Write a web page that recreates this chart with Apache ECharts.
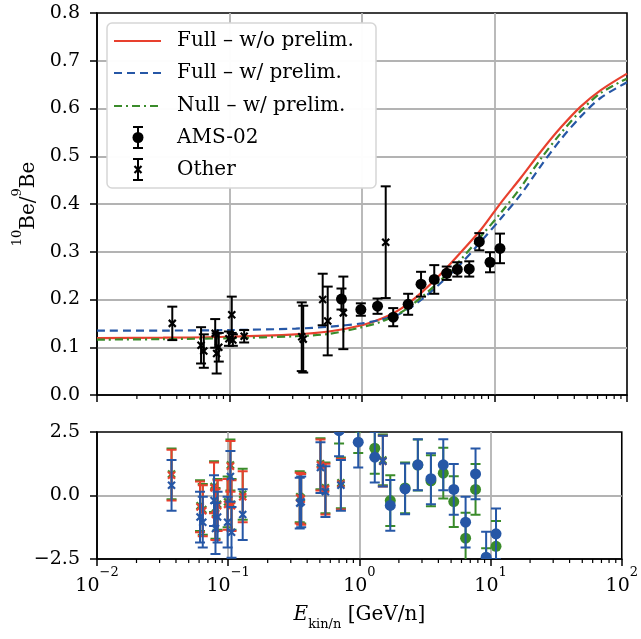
<!DOCTYPE html>
<html><head><meta charset="utf-8">
<script src="https://cdn.jsdelivr.net/npm/echarts@6/dist/echarts.min.js"></script>
<style>html,body{margin:0;padding:0;background:#fff}#c{width:641px;height:639px}</style>
</head><body><div id="c"></div>
<script>
// ---------- data ----------
const CURVE_E        = [0.01, 0.0316, 0.1, 0.316, 0.562, 1.0, 1.41, 2.0, 2.82, 3.98, 5.62, 7.94, 11.2, 15.8, 22.4, 31.6, 44.7, 63.1, 100];
const FULL_NOPRELIM  = [0.119, 0.120, 0.122, 0.127, 0.133, 0.146, 0.160, 0.182, 0.215, 0.255, 0.300, 0.347, 0.403, 0.455, 0.510, 0.560, 0.604, 0.638, 0.673];
const FULL_PRELIM    = [0.135, 0.135, 0.136, 0.139, 0.143, 0.150, 0.158, 0.172, 0.200, 0.236, 0.276, 0.322, 0.370, 0.420, 0.480, 0.535, 0.583, 0.622, 0.655];
const NULL_PRELIM    = [0.116, 0.117, 0.119, 0.123, 0.128, 0.142, 0.154, 0.174, 0.205, 0.242, 0.285, 0.333, 0.382, 0.435, 0.495, 0.548, 0.595, 0.632, 0.663];

const AMS_E     = [0.70, 0.98, 1.31, 1.72, 2.23, 2.79, 3.51, 4.36, 5.24, 6.45, 7.68, 9.25, 11.0];
const AMS_VAL   = [0.201, 0.179, 0.186, 0.163, 0.190, 0.232, 0.242, 0.255, 0.263, 0.264, 0.321, 0.278, 0.307];
const AMS_ERR   = [0.022, 0.013, 0.016, 0.019, 0.022, 0.026, 0.030, 0.014, 0.015, 0.016, 0.018, 0.021, 0.031];
const AMS_RES_FULL_PRELIM = [2.55, 2.10, 1.51, -0.39, 0.26, 1.21, 0.66, 1.21, 0.24, -1.05, 0.85, -2.43, -1.51];
const AMS_RES_NULL_PRELIM = [3.05, 2.67, 1.86, -0.20, 0.30, 1.20, 0.58, 0.88, -0.24, -1.68, 0.24, -3.08, -2.00];

const OTHER_E   = [0.037, 0.061, 0.064, 0.078, 0.080, 0.083, 0.099, 0.104, 0.106, 0.129, 0.351, 0.360, 0.505, 0.551, 0.723, 1.51];
const OTHER_VAL = [0.150, 0.104, 0.092, 0.129, 0.087, 0.100, 0.118, 0.168, 0.115, 0.123, 0.122, 0.117, 0.200, 0.155, 0.172, 0.320];
const OTHER_ERR = [0.035, 0.038, 0.035, 0.030, 0.042, 0.030, 0.015, 0.038, 0.012, 0.013, 0.072, 0.070, 0.054, 0.072, 0.076, 0.117];
const OTHER_RES_FULL_NOPRELIM = [0.80, -0.45, -0.60, 0.30, -0.75, -0.40, -0.35, 1.15, -0.40, -0.05, -0.10, -0.15, 1.20, 0.25, 0.45, 1.35];
const OTHER_RES_NULL_PRELIM   = [0.85, -0.40, -0.55, 0.35, -0.70, -0.35, -0.25, 1.20, -0.35, 0.05, -0.05, -0.10, 1.25, 0.30, 0.50, 1.40];
const OTHER_RES_FULL_PRELIM   = [0.40, -0.85, -1.05, -0.20, -1.30, -0.85, -1.05, 0.75, -1.45, -0.75, -0.30, -0.25, 1.10, 0.15, 0.40, 1.35];
const RES_ERR = 1;

const X_MIN = 0.01, X_MAX = 100;
const Y_TICKS_MAIN = {min: 0, max: 0.8, step: 0.1};
const Y_TICKS_RES  = {min: -2.5, max: 2.5, step: 2.5};
const LEGEND_LABELS = ['Full \u2013 w/o prelim.', 'Full \u2013 w/ prelim.', 'Null \u2013 w/ prelim.', 'AMS-02', 'Other'];

// ---------- styling ----------
const FONT = 'DejaVu Serif';
const RED = '#e8402e', BLUE = '#2657a6', GREEN = '#3a8b2a', GRIDC = '#b3b3b3';

const minorTicks = [];
for (let d = -2; d < 2; d++) for (let k = 2; k <= 9; k++) minorTicks.push(+(k * Math.pow(10, d)).toPrecision(3));

function errRender(marker, color, halfCap, r) {
  return function (params, api) {
    const cs = params.coordSys;
    const e = api.value(0), v = api.value(1), err = api.value(2);
    const c = api.coord([e, v]);
    const t = api.coord([e, v + err]);
    const b = api.coord([e, v - err]);
    const ls = {stroke: color, lineWidth: 2};
    const ch = [
      {type: 'line', shape: {x1: c[0], y1: t[1], x2: c[0], y2: b[1]}, style: ls},
      {type: 'line', shape: {x1: c[0] - halfCap, y1: t[1], x2: c[0] + halfCap, y2: t[1]}, style: ls},
      {type: 'line', shape: {x1: c[0] - halfCap, y1: b[1], x2: c[0] + halfCap, y2: b[1]}, style: ls}
    ];
    if (marker === 'circle') {
      ch.push({type: 'circle', shape: {cx: c[0], cy: c[1], r: r}, style: {fill: color}});
    } else {
      const s = r;
      ch.push({type: 'line', shape: {x1: c[0] - s, y1: c[1] - s, x2: c[0] + s, y2: c[1] + s}, style: {stroke: color, lineWidth: 2.2}});
      ch.push({type: 'line', shape: {x1: c[0] - s, y1: c[1] + s, x2: c[0] + s, y2: c[1] - s}, style: {stroke: color, lineWidth: 2.2}});
    }
    return {type: 'group', children: ch,
      clipPath: {type: 'rect', shape: {x: cs.x, y: cs.y, width: cs.width, height: cs.height}}};
  };
}
function minorRender(params, api) {
  const cs = params.coordSys;
  const x = api.coord([api.value(0), api.value(1)])[0];
  const yb = cs.y + cs.height;
  return {type: 'line', shape: {x1: x, y1: yb, x2: x, y2: yb + 4}, style: {stroke: '#000', lineWidth: 1.2}};
}
const zip3 = (a, b, c) => a.map((x, i) => [x, b[i], c === undefined ? RES_ERR : c[i]]);
const zip2 = (a, b) => a.map((x, i) => [x, b[i]]);

const xAxisBase = (gi, showLabel) => ({
  type: 'log', logBase: 10, gridIndex: gi, min: X_MIN, max: X_MAX, splitNumber: 4,
  axisLine: {show: true, onZero: false, lineStyle: {color: '#000', width: 1.6}},
  axisTick: {show: true, length: 7, lineStyle: {color: '#000', width: 1.5}},
  minorTick: {show: false},
  splitLine: {show: true, showMinLine: false, showMaxLine: false, lineStyle: {color: GRIDC, width: 1.8}},
  axisLabel: showLabel ? {
    show: true, margin: 7,
    formatter: v => '{b|10}{s|' + String(Math.round(Math.log10(v))).replace('-', '\u2212') + '}',
    rich: {
      b: {fontFamily: FONT, fontSize: 19, color: '#000', lineHeight: 30, verticalAlign: 'bottom'},
      s: {fontFamily: FONT, fontSize: 13, color: '#000', lineHeight: 13, verticalAlign: 'top'}
    }
  } : {show: false}
});
const yAxisBase = (gi, t) => ({
  type: 'value', gridIndex: gi, min: t.min, max: t.max, interval: t.step,
  axisLine: {show: true, lineStyle: {color: '#000', width: 1.6}},
  axisTick: {show: true, length: 7, lineStyle: {color: '#000', width: 1.5}},
  splitLine: {show: true, showMinLine: false, showMaxLine: false, lineStyle: {color: GRIDC, width: 1.8}},
  axisLabel: {show: true, margin: 17, fontFamily: FONT, fontSize: 19, color: '#000',
    formatter: v => v.toFixed(1).replace('-', '\u2212')}
});

const yMain = yAxisBase(0, Y_TICKS_MAIN);
yMain.name = '{s|10}{n|Be/}{s|9}{n|Be}';
yMain.nameLocation = 'middle';
yMain.nameGap = 56;
yMain.nameRotate = 90;
yMain.nameTextStyle = {rich: {
  n: {fontFamily: FONT, fontSize: 20, color: '#000', lineHeight: 28, verticalAlign: 'bottom'},
  s: {fontFamily: FONT, fontSize: 13, color: '#000', lineHeight: 13, verticalAlign: 'top'}
}};
const xRes = xAxisBase(1, true);
xRes.name = '{i|E}{u|kin/n}{n| [GeV/n]}';
xRes.nameLocation = 'middle';
xRes.nameGap = 46;
xRes.nameTextStyle = {rich: {
  i: {fontFamily: FONT, fontStyle: 'italic', fontSize: 20, color: '#000', lineHeight: 26, verticalAlign: 'top'},
  n: {fontFamily: FONT, fontSize: 20, color: '#000', lineHeight: 26, verticalAlign: 'top'},
  u: {fontFamily: FONT, fontSize: 13, color: '#000', lineHeight: 14, verticalAlign: 'bottom'}
}};

const lineSeries = (data, color, type, name) => ({
  type: 'line', name: name, xAxisIndex: 0, yAxisIndex: 0, data: zip2(CURVE_E, data),
  showSymbol: false, symbol: 'none', smooth: 0.3, z: 3, silent: true,
  lineStyle: {color: color, width: 2.2, type: type}
});

// legend drawn as graphics
const LX = 114, LX2 = 161, LT = 177, LYS = [41, 73, 106, 137.5, 169.5];
const legendEls = [
  {type: 'rect', z: 100, shape: {x: 107, y: 23, width: 269, height: 165, r: 5}, style: {fill: 'rgba(255,255,255,0.97)', stroke: '#d6d6d6', lineWidth: 1.5}},
  {type: 'line', z: 101, shape: {x1: LX, y1: LYS[0], x2: LX2, y2: LYS[0]}, style: {stroke: RED, lineWidth: 2.2}},
  {type: 'line', z: 101, shape: {x1: LX, y1: LYS[1], x2: LX2, y2: LYS[1]}, style: {stroke: BLUE, lineWidth: 2.2, lineDash: [8, 5]}},
  {type: 'line', z: 101, shape: {x1: LX, y1: LYS[2], x2: LX2, y2: LYS[2]}, style: {stroke: GREEN, lineWidth: 2.2, lineDash: [8, 4, 2, 4]}}
];
[3, 4].forEach(i => {
  const cx = 138, cy = LYS[i], h = 10.5;
  const st = {stroke: '#000', lineWidth: 2};
  legendEls.push({type: 'line', z: 101, shape: {x1: cx, y1: cy - h, x2: cx, y2: cy + h}, style: st});
  legendEls.push({type: 'line', z: 101, shape: {x1: cx - 5, y1: cy - h, x2: cx + 5, y2: cy - h}, style: st});
  legendEls.push({type: 'line', z: 101, shape: {x1: cx - 5, y1: cy + h, x2: cx + 5, y2: cy + h}, style: st});
  if (i === 3) legendEls.push({type: 'circle', z: 101, shape: {cx: cx, cy: cy, r: 5.5}, style: {fill: '#000'}});
  else {
    legendEls.push({type: 'line', z: 101, shape: {x1: cx - 3.5, y1: cy - 3.5, x2: cx + 3.5, y2: cy + 3.5}, style: {stroke: '#000', lineWidth: 2.2}});
    legendEls.push({type: 'line', z: 101, shape: {x1: cx - 3.5, y1: cy + 3.5, x2: cx + 3.5, y2: cy - 3.5}, style: {stroke: '#000', lineWidth: 2.2}});
  }
});
LEGEND_LABELS.forEach((t, i) => legendEls.push({type: 'text', z: 102, style: {x: LT, y: LYS[i], text: t, fontFamily: FONT, fontSize: 20, fill: '#000', verticalAlign: 'middle', align: 'left'}}));

const option = {
  animation: false,
  backgroundColor: '#fff',
  grid: [
    {left: 97, right: 14, top: 13, height: 382, show: true, borderColor: '#000', borderWidth: 1.6, backgroundColor: 'transparent'},
    {left: 97, right: 14, top: 432, height: 127, show: true, borderColor: '#000', borderWidth: 1.6, backgroundColor: 'transparent'}
  ],
  xAxis: [xAxisBase(0, false), xRes],
  yAxis: [yMain, yAxisBase(1, Y_TICKS_RES)],
  graphic: legendEls,
  series: [
    lineSeries(FULL_NOPRELIM, RED, 'solid', 'Full w/o prelim'),
    lineSeries(FULL_PRELIM, BLUE, [8, 5], 'Full w/ prelim'),
    lineSeries(NULL_PRELIM, GREEN, [8, 4, 2, 4], 'Null w/ prelim'),
    {type: 'custom', xAxisIndex: 0, yAxisIndex: 0, z: 5, silent: true, data: zip3(OTHER_E, OTHER_VAL, OTHER_ERR), renderItem: errRender('cross', '#000', 5, 3.5)},
    {type: 'custom', xAxisIndex: 0, yAxisIndex: 0, z: 5, silent: true, data: zip3(AMS_E, AMS_VAL, AMS_ERR), renderItem: errRender('circle', '#000', 5, 5.5)},
    {type: 'custom', xAxisIndex: 1, yAxisIndex: 1, z: 4, silent: true, data: zip3(OTHER_E, OTHER_RES_NULL_PRELIM), renderItem: errRender('cross', GREEN, 5, 3.5)},
    {type: 'custom', xAxisIndex: 1, yAxisIndex: 1, z: 4, silent: true, data: zip3(AMS_E, AMS_RES_NULL_PRELIM), renderItem: errRender('circle', GREEN, 5, 5.5)},
    {type: 'custom', xAxisIndex: 1, yAxisIndex: 1, z: 5, silent: true, data: zip3(OTHER_E, OTHER_RES_FULL_NOPRELIM), renderItem: errRender('cross', RED, 5, 3.5)},
    {type: 'custom', xAxisIndex: 1, yAxisIndex: 1, z: 6, silent: true, data: zip3(OTHER_E, OTHER_RES_FULL_PRELIM), renderItem: errRender('cross', BLUE, 5, 3.5)},
    {type: 'custom', xAxisIndex: 1, yAxisIndex: 1, z: 6, silent: true, data: zip3(AMS_E, AMS_RES_FULL_PRELIM), renderItem: errRender('circle', BLUE, 5, 5.5)},
    {type: 'custom', xAxisIndex: 0, yAxisIndex: 0, z: 7, silent: true, clip: false, data: minorTicks.map(m => [m, 0.4]), renderItem: minorRender},
    {type: 'custom', xAxisIndex: 1, yAxisIndex: 1, z: 7, silent: true, clip: false, data: minorTicks.map(m => [m, 0]), renderItem: minorRender}
  ]
};
const chart = echarts.init(document.getElementById('c'), null, {renderer: 'canvas'});
chart.setOption(option);
</script></body></html>
